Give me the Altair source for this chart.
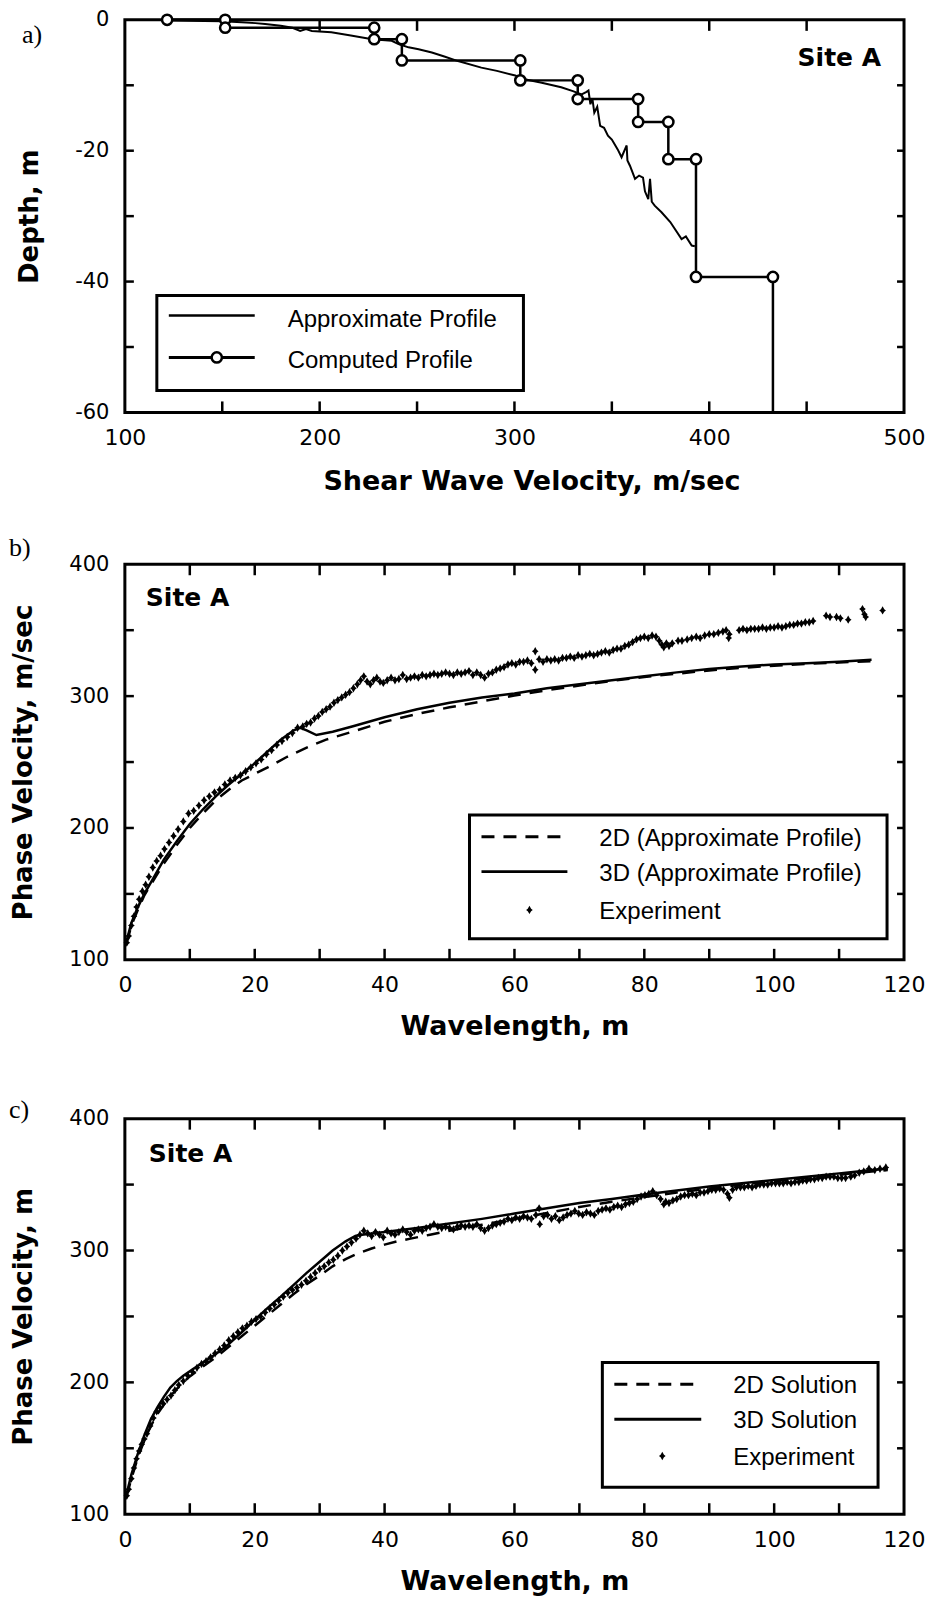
import altair as alt
import pandas as pd

# ---------------- data ----------------
# Panel a: computed (layered) profile, path vertices
a_comp_v = [121.7, 151.5, 151.5, 228.0, 228.0, 242.2, 242.2, 303.0, 303.0, 332.5,
            332.5, 363.5, 363.5, 379.0, 379.0, 393.2, 393.2, 432.7, 432.7]
a_comp_d = [0.0, 0.0, -1.2, -1.2, -2.95, -2.95, -6.2, -6.2, -9.25, -9.25,
            -12.1, -12.1, -15.6, -15.6, -21.3, -21.3, -39.3, -39.3, -60.0]

# Panel a: approximate profile
a_apx_v = [122, 150, 160, 167, 172, 180, 186, 190, 193, 196,
           206, 216, 227, 237, 240.5, 245.6, 250.8, 257.6, 264, 271,
           283, 291, 300.4, 304, 314, 324, 330, 334.5, 337, 338,
           339, 340, 341, 342.5, 344, 346, 348, 350, 353, 355,
           357.6, 358, 359.3, 361.9, 364, 366, 367, 368.7, 369.6, 370.5,
           372, 375.5, 380, 385.8, 388, 391, 392.6]
a_apx_d = [-0.1, -0.2, -0.35, -0.5, -0.65, -0.9, -1.2, -1.7, -1.4, -1.7,
           -1.9, -2.4, -2.95, -3.2, -3.7, -4.2, -4.5, -5.0, -5.6, -6.3,
           -7.3, -7.8, -8.5, -9.0, -9.6, -10.3, -10.9, -11.4, -11.0, -10.8,
           -12.9, -12.0, -14.2, -13.3, -16.2, -16.5, -17.7, -18.3, -19.8, -21.0,
           -19.2, -21.5, -22.3, -24.3, -23.8, -24.1, -26.2, -27.4, -24.3, -27.8,
           -28.4, -29.4, -30.9, -33.5, -33.1, -34.5, -34.6]

# Panel b: 3D and 2D (approximate profile)
b_lam_3d = [0.3, 1, 2, 3, 4.5, 6, 8, 10, 12, 14,
            16, 18, 20, 22, 24, 26, 27, 28, 29.5, 32,
            35, 40, 45, 50, 55, 60, 65, 70, 75, 80,
            85, 90, 95, 100, 105, 110, 115]
b_v_3d = [115, 128, 140, 150, 163, 176, 190, 203, 214, 224,
          233, 241, 249, 258, 267, 274, 276, 274, 270.5, 273,
          277, 284, 290, 295, 299, 302, 306, 309, 312, 315,
          318, 320.5, 322.5, 324, 325, 326, 327.5]
b_lam_2d = [0.3, 1, 2, 3, 4.5, 6, 8, 10, 12, 14,
            16, 18, 20, 22, 25, 28, 31, 35, 40, 45,
            50, 55, 60, 65, 70, 75, 80, 85, 90, 95,
            100, 105, 110, 115]
b_v_2d = [113, 126, 138, 149, 161, 173, 187, 200, 211, 221,
          229, 236, 241, 246, 254, 261, 267, 273, 280.5, 286.5,
          291.5, 296, 300.5, 304.5, 308, 311.5, 314.5, 317, 319.5, 321.5,
          323, 324.5, 325.5, 326.5]

# Panel b: experiment
b_exp_lam = [0.3, 0.6, 1.0, 1.4, 1.8, 2.2, 2.7, 3.2, 3.7, 4.3,
             4.9, 5.5, 6.1, 6.8, 7.5, 8.2, 9.0, 9.8, 10.6, 11.4,
             12.2, 13.0, 13.8, 14.6, 15.4, 16.2, 17.0, 17.8, 18.6, 19.4,
             20.2, 21.0, 21.8, 22.6, 23.4, 24.2, 25.0, 25.8, 26.6, 27.4,
             28.0, 28.6, 29.2, 29.8, 30.4, 31.0, 31.6, 32.2, 32.8, 33.4,
             34.0, 34.6, 35.2, 35.8, 36.3, 36.8, 37.3, 37.8, 38.3, 38.8,
             39.3, 39.8, 40.4, 41.0, 41.6, 42.2, 42.8, 43.4, 44.0, 44.6,
             45.2, 45.8, 46.4, 47.0, 47.6, 48.2, 48.8, 49.4, 50.0, 50.6,
             51.2, 51.8, 52.4, 53.0, 53.6, 54.2, 54.8, 55.4, 56.0, 56.6,
             57.2, 57.8, 58.4, 59.0, 59.6, 60.2, 60.8, 61.4, 62.0, 62.6,
             63.2, 63.2, 63.8, 64.4, 65.0, 65.6, 66.2, 66.8, 67.4, 68.0,
             68.6, 69.2, 69.8, 70.4, 71.0, 71.6, 72.2, 72.8, 73.4, 74.0,
             74.6, 75.2, 75.8, 76.4, 77.0, 77.6, 78.2, 78.8, 79.4, 80.0,
             80.6, 81.2, 81.8, 82.3, 82.7, 83.0, 83.4, 83.8, 84.3, 85.2,
             85.8, 86.6, 87.3, 88.0, 88.6, 89.3, 90.0, 90.7, 91.4, 92.1,
             92.6, 93.0, 93.1, 94.6, 95.2, 95.8, 96.4, 97.0, 97.6, 98.2,
             98.8, 99.4, 100.0, 100.6, 101.2, 101.8, 102.4, 103.0, 103.6, 104.2,
             104.8, 105.4, 106.0, 108.0, 108.6, 109.6, 110.2, 111.4, 113.6, 113.9,
             114.1, 116.7]
b_exp_vel = [113, 118, 126, 133, 140, 146, 152, 157, 163, 170,
             175, 179, 184, 189, 194, 199, 205, 211, 213, 217,
             221, 224, 227, 229, 233, 236, 238, 240, 243, 246,
             249, 252, 256, 259, 263, 266, 269, 272, 276, 277,
             279, 280, 283, 285, 288, 290, 292, 295, 297, 299,
             301, 303, 306, 309, 312, 315, 311, 309, 312, 314,
             311, 310, 312, 314, 312, 313, 316, 313, 314, 315,
             314, 316, 315, 316, 317, 316, 317, 318, 317, 316,
             318, 317, 318, 319, 316, 318, 316, 314, 317, 318,
             320, 321, 322, 324, 325, 324, 326, 326, 327, 325,
             334, 320, 328, 326, 328, 327, 328, 327, 329, 329,
             330, 329, 331, 330, 331, 332, 331, 332, 333, 334,
             333, 335, 336, 336, 338, 339, 341, 343, 344, 345,
             344, 346, 345, 342, 339, 337, 340, 338, 340, 342,
             342, 343, 344, 345, 344, 346, 347, 347, 348, 349,
             350, 344, 347, 350, 351, 350, 351, 351, 351, 352,
             351, 352, 352, 353, 352, 353, 354, 354, 355, 355,
             356, 356, 357, 361, 360, 360, 359, 358, 366, 362,
             360, 365]

# Panel c: 3D and 2D solutions
c_lam_3d = [0.3, 1, 2, 3, 4, 5, 6, 7, 8, 9,
            10, 12, 14, 16, 18, 20, 22, 24, 26, 28,
            30, 32, 34, 35.5, 36.5, 40, 45, 50, 55, 60,
            65, 70, 75, 80, 85, 90, 95, 100, 105, 110,
            115, 117.5]
c_v_3d = [116, 130, 146, 160, 172, 181, 189, 196, 201, 205,
          208.5, 215, 221.5, 229, 238, 247.5, 256.5, 265, 274, 283,
          291.5, 300, 307, 311, 312, 314, 317, 320.5, 324, 328,
          332, 336, 339, 342.5, 345.5, 348.5, 351, 353.5, 356, 358.5,
          361, 362]
c_lam_2d = [0.3, 1, 2, 3, 4, 5, 6, 7, 8, 9,
            10, 12, 14, 16, 18, 20, 22, 24, 26, 28,
            30, 32, 34, 36, 38, 40, 42, 44, 47, 50,
            55, 60, 65, 70, 75, 80, 85, 90, 95, 100,
            105, 110, 115, 117.5]
c_v_2d = [114, 127, 143, 156, 167, 176, 183, 189.5, 195, 200,
          204.5, 212, 219, 227, 235, 243, 251, 259, 267, 274.5,
          281, 288, 293.5, 298, 301.5, 304.5, 307, 309, 312, 315,
          319.5, 324, 328.5, 333, 337, 340.5, 344, 347, 350, 352.5,
          355, 357.5, 360, 361]

# Panel c: experiment
c_exp_lam = [0.3, 0.6, 1.0, 1.4, 1.8, 2.2, 2.6, 3.0, 3.4, 3.9,
             4.4, 4.9, 5.4, 5.9, 6.5, 7.1, 7.7, 8.3, 9.0, 9.7,
             10.4, 11.1, 11.8, 12.5, 13.2, 13.9, 14.6, 15.3, 16.0, 16.7,
             17.4, 18.1, 18.8, 19.5, 20.2, 20.9, 21.6, 22.3, 23.0, 23.7,
             24.4, 25.1, 25.8, 26.5, 27.2, 27.9, 28.6, 29.3, 30.0, 30.7,
             31.4, 32.1, 32.8, 33.5, 34.2, 34.9, 35.6, 36.2, 36.8, 37.4,
             38.0, 38.6, 39.2, 39.8, 40.4, 41.0, 41.6, 42.2, 42.8, 43.4,
             44.0, 44.6, 45.2, 45.8, 46.4, 47.0, 47.6, 48.2, 48.8, 49.4,
             50.0, 50.6, 51.2, 51.8, 52.4, 53.0, 53.6, 54.2, 54.8, 55.4,
             56.0, 56.6, 57.2, 57.8, 58.4, 59.0, 59.6, 60.2, 60.8, 61.4,
             62.0, 62.6, 63.3, 63.8, 63.9, 64.5, 65.1, 65.7, 66.3, 66.9,
             67.5, 68.1, 68.7, 69.3, 69.9, 70.5, 71.1, 71.7, 72.3, 72.9,
             73.5, 74.1, 74.7, 75.3, 75.9, 76.5, 77.1, 77.7, 78.3, 78.9,
             79.5, 80.1, 80.7, 81.3, 81.9, 82.5, 83.0, 83.3, 83.8, 84.4,
             85.0, 85.6, 86.2, 86.8, 87.4, 88.0, 88.6, 89.2, 89.8, 90.4,
             91.0, 91.6, 92.2, 92.8, 93.1, 93.6, 94.2, 94.8, 95.4, 96.0,
             96.6, 97.2, 97.8, 98.4, 99.0, 99.6, 100.2, 100.8, 101.4, 102.0,
             102.6, 103.2, 103.8, 104.4, 105.0, 105.6, 106.2, 106.8, 107.4, 108.0,
             108.6, 109.2, 109.8, 110.4, 111.0, 111.8, 112.4, 113.1, 113.8, 114.6,
             115.5, 116.3, 117.2]
c_exp_vel = [114, 119, 127, 135, 142, 148, 153, 157, 161, 167,
             173, 178, 181, 184, 187, 190, 194, 198, 201, 205,
             208, 211, 214, 216, 219, 222, 225, 228, 232, 235,
             238, 241, 243, 246, 248, 250, 253, 256, 259, 262,
             265, 268, 270, 272, 274, 277, 280, 283, 286, 288,
             291, 293, 296, 300, 303, 306, 309, 312, 315, 313,
             311, 314, 312, 310, 315, 313, 312, 314, 316, 314,
             312, 315, 316, 315, 317, 318, 320, 318, 317, 318,
             317, 316, 318, 319, 318, 319, 318, 320, 317, 315,
             317, 319, 320, 321, 322, 324, 323, 325, 324, 326,
             325, 324, 327, 332, 320, 326, 327, 324, 326, 323,
             325, 327, 328, 330, 328, 327, 329, 328, 327, 330,
             331, 332, 331, 333, 334, 333, 335, 336, 337, 339,
             341, 342, 343, 345, 342, 339, 335, 337, 336, 338,
             339, 341, 342, 342, 343, 342, 344, 344, 345, 346,
             346, 347, 346, 343, 340, 346, 348, 348, 348, 349,
             348, 349, 350, 350, 350, 351, 351, 351, 351, 352,
             351, 352, 352, 353, 353, 354, 354, 355, 355, 356,
             356, 356, 355, 355, 355, 356, 357, 359, 360, 362,
             361, 362, 363]

# axis ticks / labels
a_x_labels = [100, 200, 300, 400, 500]
a_y_labels = [0, -20, -40, -60]
a_x_ticks = [150, 200, 250, 300, 350, 400, 450]
a_y_ticks = [-10, -20, -30, -40, -50]
bc_x_labels = [0, 20, 40, 60, 80, 100, 120]
bc_y_labels = [100, 200, 300, 400]
bc_x_ticks = [10, 20, 30, 40, 50, 60, 70, 80, 90, 100, 110]
bc_y_ticks = [150, 200, 250, 300, 350]

a_legend = ["Approximate Profile", "Computed Profile"]
b_legend = ["2D (Approximate Profile)", "3D (Approximate Profile)", "Experiment"]
c_legend = ["2D Solution", "3D Solution", "Experiment"]

# ---------------- styling ----------------
W = 780
HA, HB, HC = 393, 396, 396
LBL_FONT = "DejaVu Sans"
TTL_FONT = "DejaVu Sans"
LEG_FONT = "Liberation Sans, Arial, sans-serif"
SERIF = "Liberation Serif, Times New Roman, serif"
STAR = "M0,-1L0.4,-0.3L0.8,0L0.4,0.3L0,1L-0.4,0.3L-0.8,0L-0.4,-0.3Z"
MSIZE = 70
DASH = [13, 9]

one = pd.DataFrame({"k": [0]})


def x_axis(values, title, tx, ty):
    return alt.Axis(values=values, title=title, labelFont=LBL_FONT, labelFontSize=22,
                    labelPadding=15, labelColor="black", labelFlush=False, labelOverlap=False,
                    titleFont=TTL_FONT, titleFontSize=27, titleFontWeight="bold", titleColor="black",
                    titleX=tx, titleY=ty, titleBaseline="middle", titleAlign="center",
                    ticks=False, domain=False, grid=False)


def y_axis(values, title, tx, h, expr=None):
    kw = dict(values=values, title=title, labelFont=LBL_FONT, labelFontSize=21,
              labelPadding=16, labelColor="black", labelFlush=False, labelOverlap=False,
              titleFont=TTL_FONT, titleFontSize=26, titleFontWeight="bold", titleColor="black",
              titleX=tx, titleY=h / 2, titleAngle=270, titleBaseline="middle", titleAlign="center",
              ticks=False, domain=False, grid=False)
    if expr:
        kw["labelExpr"] = expr
    return alt.Axis(**kw)


def vtext(txt, x, y, **kw):
    return alt.Chart(one).mark_text(color="black", **kw).encode(
        x=alt.value(x), y=alt.value(y), text=alt.value(txt))


def hrule(x1, x2, y, **kw):
    return alt.Chart(one).mark_rule(color="black", **kw).encode(
        x=alt.value(x1), x2=alt.value(x2), y=alt.value(y))


def box(x1, x2, y1, y2, **kw):
    return alt.Chart(one).mark_rect(**kw).encode(
        x=alt.value(x1), x2=alt.value(x2), y=alt.value(y1), y2=alt.value(y2))


def tick_layers(xt, yt, xs, ys, xax, yax, h):
    dx = pd.DataFrame({"t": xt})
    dy = pd.DataFrame({"t": yt})
    r = dict(color="black", strokeWidth=2.5)
    return [
        alt.Chart(dx).mark_rule(**r).encode(x=alt.X("t:Q", scale=xs, axis=xax),
                                             y=alt.value(h), y2=alt.value(h - 11)),
        alt.Chart(dx).mark_rule(**r).encode(x=alt.X("t:Q", scale=xs, axis=xax),
                                             y=alt.value(0), y2=alt.value(11)),
        alt.Chart(dy).mark_rule(**r).encode(y=alt.Y("t:Q", scale=ys, axis=yax),
                                             x=alt.value(0), x2=alt.value(9)),
        alt.Chart(dy).mark_rule(**r).encode(y=alt.Y("t:Q", scale=ys, axis=yax),
                                             x=alt.value(W), x2=alt.value(W - 7)),
    ]


def frame(h):
    return box(0, W, 0, h, fill="white", fillOpacity=0, stroke="black", strokeWidth=3)


# ---------------- panel a ----------------
xa = alt.Scale(domain=[100, 500], nice=False, zero=False)
ya = alt.Scale(domain=[-60, 0], nice=False, zero=False)
ax_xa = x_axis(a_x_labels, "Shear Wave Velocity, m/sec", W / 2 + 17, 69)
ax_ya = y_axis(a_y_labels, "Depth, m", -95, HA, "'' + datum.value")
df_comp = pd.DataFrame({"v": a_comp_v, "d": a_comp_d, "i": range(len(a_comp_v))})
df_circ = df_comp.iloc[:-1]
df_apx = pd.DataFrame({"v": a_apx_v, "d": a_apx_d, "i": range(len(a_apx_v))})

a_apx_line = alt.Chart(df_apx).mark_line(color="black", strokeWidth=2).encode(
    x=alt.X("v:Q", scale=xa, axis=ax_xa), y=alt.Y("d:Q", scale=ya, axis=ax_ya), order="i:Q")
a_comp_line = alt.Chart(df_comp).mark_line(color="black", strokeWidth=2.5).encode(
    x=alt.X("v:Q", scale=xa, axis=ax_xa), y=alt.Y("d:Q", scale=ya, axis=ax_ya), order="i:Q")
a_circles = alt.Chart(df_circ).mark_point(shape="circle", filled=True, fill="white", stroke="black",
                                          strokeWidth=2.5, size=105, opacity=1).encode(
    x=alt.X("v:Q", scale=xa, axis=ax_xa), y=alt.Y("d:Q", scale=ya, axis=ax_ya))

panel_a = alt.layer(
    a_apx_line, a_comp_line, *tick_layers(a_x_ticks, a_y_ticks, xa, ya, ax_xa, ax_ya, HA),
    frame(HA), a_circles,
    box(32, 399, 276, 371, fill="white", stroke="black", strokeWidth=3),
    hrule(44, 130, 296, strokeWidth=2.5),
    hrule(44, 130, 338, strokeWidth=3),
    alt.Chart(one).mark_point(shape="circle", filled=True, fill="white", stroke="black",
                              strokeWidth=2.5, size=105, opacity=1).encode(x=alt.value(92), y=alt.value(338)),
    vtext(a_legend[0], 163, 300, align="left", baseline="middle", font=LEG_FONT, fontSize=24),
    vtext(a_legend[1], 163, 342, align="left", baseline="middle", font=LEG_FONT, fontSize=24),
    vtext("Site A", 757, 38, align="right", baseline="middle", font=TTL_FONT, fontSize=25, fontWeight="bold"),
    vtext("a)", -103, 15, align="left", baseline="middle", font=SERIF, fontSize=26),
).properties(width=W, height=HA)


# ---------------- panels b and c ----------------
def phase_panel(h, exp_l, exp_v, l3, v3, l2, v2, ytitle, legend, leg, site_xy, letter, letter_y):
    xs = alt.Scale(domain=[0, 120], nice=False, zero=False)
    ys = alt.Scale(domain=[100, 400], nice=False, zero=False)
    xax = x_axis(bc_x_labels, "Wavelength, m", W / 2, 67)
    yax = y_axis(bc_y_labels, ytitle, -101, h)
    dexp = pd.DataFrame({"lam": exp_l, "vel": exp_v})
    d3 = pd.DataFrame({"lam": l3, "vel": v3})
    d2 = pd.DataFrame({"lam": l2, "vel": v2})
    exp_pts = alt.Chart(dexp).mark_point(shape=STAR, filled=True, color="black", size=MSIZE, opacity=1).encode(
        x=alt.X("lam:Q", scale=xs, axis=xax), y=alt.Y("vel:Q", scale=ys, axis=yax))
    line3 = alt.Chart(d3).mark_line(color="black", strokeWidth=2.5).encode(
        x=alt.X("lam:Q", scale=xs, axis=xax), y=alt.Y("vel:Q", scale=ys, axis=yax))
    line2 = alt.Chart(d2).mark_line(color="black", strokeWidth=2.5, strokeDash=DASH).encode(
        x=alt.X("lam:Q", scale=xs, axis=xax), y=alt.Y("vel:Q", scale=ys, axis=yax))
    bx1, bx2, by1, by2, sx1, sx2d, sx2s, mx, tx, ly = leg
    layers = [
        exp_pts, line2, line3,
        *tick_layers(bc_x_ticks, bc_y_ticks, xs, ys, xax, yax, h),
        frame(h),
        box(bx1, bx2, by1, by2, fill="white", stroke="black", strokeWidth=3),
        hrule(sx1, sx2d, ly[0], strokeWidth=3, strokeDash=DASH),
        hrule(sx1, sx2s, ly[1], strokeWidth=3),
        alt.Chart(one).mark_point(shape=STAR, filled=True, color="black", size=MSIZE, opacity=1).encode(
            x=alt.value(mx), y=alt.value(ly[2])),
    ]
    for i, lab in enumerate(legend):
        layers.append(vtext(lab, tx, ly[i] + 2, align="left", baseline="middle", font=LEG_FONT, fontSize=24))
    layers.append(vtext("Site A", site_xy[0], site_xy[1], align="left", baseline="middle",
                        font=TTL_FONT, fontSize=25, fontWeight="bold"))
    layers.append(vtext(letter, -116, letter_y, align="left", baseline="middle", font=SERIF, fontSize=26))
    return alt.layer(*layers).properties(width=W, height=h)


panel_b = phase_panel(HB, b_exp_lam, b_exp_vel, b_lam_3d, b_v_3d, b_lam_2d, b_v_2d,
                      "Phase Velocity, m/sec", b_legend,
                      (345, 763, 251, 375, 357, 436, 443, 405, 475, [272.7, 307.7, 346]),
                      (21, 34), "b)", -16)
panel_c = phase_panel(HC, c_exp_lam, c_exp_vel, c_lam_3d, c_v_3d, c_lam_2d, c_v_2d,
                      "Phase Velocity, m", c_legend,
                      (478, 754, 244, 369, 490, 569, 577, 538, 609, [266, 301, 337.7]),
                      (24, 35), "c)", -9)


def spacer(h):
    return alt.Chart(one).mark_point(opacity=0).encode(
        x=alt.X("k:Q", axis=None), y=alt.Y("k:Q", axis=None)).properties(width=W, height=h)


chart = alt.vconcat(panel_a, spacer(152), panel_b, spacer(159), panel_c,
                    spacing=0, bounds="flush").properties(
    padding={"left": 1, "top": 0, "right": 2, "bottom": 5}
).configure_view(stroke=None).configure_axis(grid=False, ticks=False, domain=False)

chart.save("out.html", embed_options={"renderer": "svg", "actions": False})
